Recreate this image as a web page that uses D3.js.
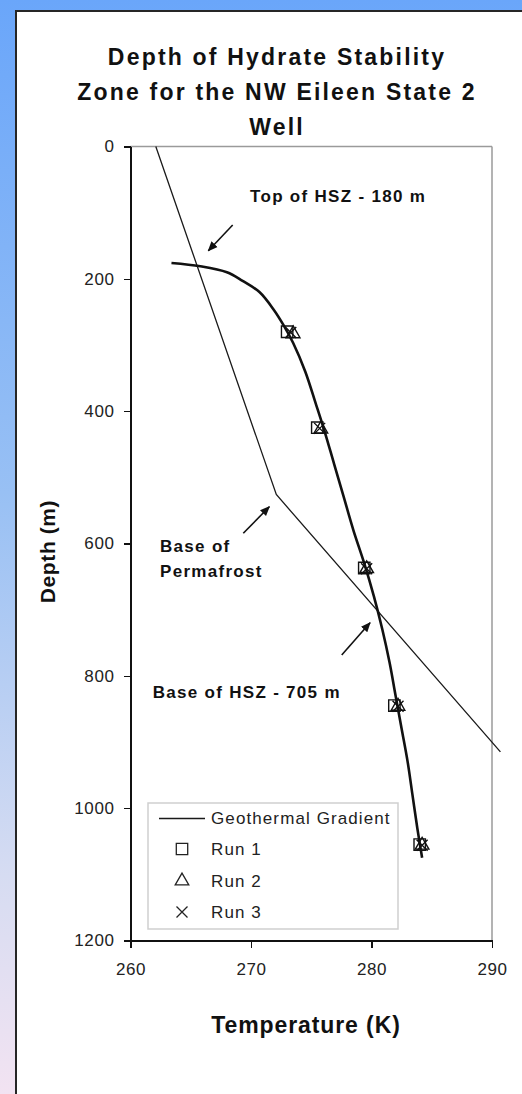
<!DOCTYPE html>
<html>
<head>
<meta charset="utf-8">
<script src="https://cdn.jsdelivr.net/npm/d3@7"></script>
<style>
  html, body { margin: 0; padding: 0; }
  body { width: 522px; height: 1094px; overflow: hidden; }
  svg { display: block; }
</style>
</head>
<body>
<svg id="chart" width="522" height="1094"></svg>
<script>
// Geothermal gradient (temperature vs depth), with the permafrost kink
const gradientTemp  = [262.1, 272.1, 290.7];
const gradientDepth = [0, 526, 915];

// Hydrate stability boundary curve
const boundaryTemp  = [263.4, 265.8, 268.0, 269.3, 270.7, 271.9, 272.7, 273.5, 274.5, 275.4, 276.1, 276.9, 277.7, 278.5, 279.4, 280.2, 280.9, 281.5, 282.0, 282.5, 283.0, 283.4, 283.8, 284.2];
const boundaryDepth = [176, 181, 190, 203, 220, 247, 270, 297, 340, 390, 430, 480, 530, 580, 630, 680, 730, 780, 830, 880, 930, 980, 1030, 1075];

// Model runs
const run1Temp  = [273.0, 275.5, 279.4, 281.9, 284.0];
const run1Depth = [280, 425, 637, 845, 1055];
const run2Temp  = [273.5, 275.8, 279.6, 282.2, 284.2];
const run2Depth = [283, 427, 638, 846, 1056];
const run3Temp  = [273.3, 275.7, 279.6, 282.2, 284.2];
const run3Depth = [281, 426, 638, 846, 1056];

const tempTicks  = [260, 270, 280, 290];
const depthTicks = [0, 200, 400, 600, 800, 1000, 1200];

const titleLines = ["Depth of Hydrate Stability", "Zone for the NW Eileen State 2", "Well"];
const legendLabels = ["Geothermal Gradient", "Run 1", "Run 2", "Run 3"];

const svg = d3.select("#chart");

// Slide background
const defs = svg.append("defs");
const bg = defs.append("linearGradient").attr("id", "bgGrad")
  .attr("x1", 0).attr("y1", 0).attr("x2", 0).attr("y2", 1);
bg.append("stop").attr("offset", "0%").attr("stop-color", "#6aa6fa");
bg.append("stop").attr("offset", "45%").attr("stop-color", "#98c0f4");
bg.append("stop").attr("offset", "80%").attr("stop-color", "#d6dcf2");
bg.append("stop").attr("offset", "100%").attr("stop-color", "#f2e3f2");
svg.append("rect").attr("width", 522).attr("height", 1094).attr("fill", "url(#bgGrad)");

// White panel
svg.append("rect").attr("x", 16).attr("y", 11).attr("width", 520).attr("height", 1100)
  .attr("fill", "#ffffff").attr("stroke", "#262626").attr("stroke-width", 2);

// Arrowhead
defs.append("marker").attr("id", "arrowHead")
  .attr("viewBox", "0 0 10 10").attr("refX", 9).attr("refY", 5)
  .attr("markerWidth", 10).attr("markerHeight", 10).attr("markerUnits", "userSpaceOnUse")
  .attr("orient", "auto")
  .append("path").attr("d", "M0,0.8 L10,5 L0,9.2 Z").attr("fill", "#111");

const x = d3.scaleLinear().domain([260, 290]).range([130.5, 492]);
const y = d3.scaleLinear().domain([0, 1200]).range([146.5, 940.5]);

// Title
const title = svg.append("text")
  .attr("text-anchor", "middle")
  .attr("font-family", "Liberation Sans, Arial, sans-serif")
  .attr("font-weight", "bold").attr("font-size", 23)
  .attr("letter-spacing", 2.2).attr("fill", "#111");
const titleBase = [65, 99.5, 135];
titleLines.forEach((t, i) => {
  title.append("tspan").attr("x", 277).attr("y", titleBase[i]).text(t);
});

// Plot frame (top and right)
svg.append("line").attr("x1", x(260)).attr("x2", x(290)).attr("y1", y(0)).attr("y2", y(0))
  .attr("stroke", "#9a9a9a").attr("stroke-width", 1.5);
svg.append("line").attr("x1", x(290)).attr("x2", x(290)).attr("y1", y(0)).attr("y2", y(1200))
  .attr("stroke", "#9a9a9a").attr("stroke-width", 1.5);

// Axes
const tickFont = g => g.selectAll("text")
  .attr("font-family", "Liberation Sans, Arial, sans-serif")
  .attr("font-size", 17).attr("letter-spacing", 0.6).attr("fill", "#222");

const yAxis = svg.append("g").attr("transform", `translate(${x(260)},0)`)
  .call(d3.axisLeft(y).tickValues(depthTicks).tickSize(7).tickSizeOuter(0).tickPadding(9).tickFormat(d3.format("d")))
  .call(tickFont);
yAxis.select(".domain").attr("stroke", "#111").attr("stroke-width", 2);
yAxis.selectAll(".tick line").attr("stroke", "#111").attr("stroke-width", 1.5);

const xAxis = svg.append("g").attr("transform", `translate(0,${y(1200)})`)
  .call(d3.axisBottom(x).tickValues(tempTicks).tickSize(7).tickSizeOuter(0).tickFormat(d3.format("d")))
  .call(tickFont);
xAxis.select(".domain").attr("stroke", "#111").attr("stroke-width", 2);
xAxis.selectAll(".tick line").attr("stroke", "#111").attr("stroke-width", 1.5);
xAxis.selectAll(".tick text").attr("y", 34.5).attr("dy", 0);
svg.selectAll(".domain, .tick line").attr("shape-rendering", "crispEdges");

// Axis titles
svg.append("text").attr("x", 306).attr("y", 1033).attr("text-anchor", "middle")
  .attr("font-family", "Liberation Sans, Arial, sans-serif")
  .attr("font-weight", "bold").attr("font-size", 23).attr("letter-spacing", 0.9)
  .attr("fill", "#111").text("Temperature (K)");
svg.append("text").attr("transform", `translate(55,${(y(0) + y(1200)) / 2 + 8}) rotate(-90)`)
  .attr("text-anchor", "middle")
  .attr("font-family", "Liberation Sans, Arial, sans-serif")
  .attr("font-weight", "bold").attr("font-size", 21).attr("letter-spacing", 0.6)
  .attr("fill", "#111").text("Depth (m)");

const line = d3.line().x(d => x(d[0])).y(d => y(d[1]));

// Geothermal gradient
svg.append("path").datum(d3.zip(gradientTemp, gradientDepth))
  .attr("d", line).attr("fill", "none").attr("stroke", "#1a1a1a").attr("stroke-width", 1.3);

// Hydrate stability boundary
svg.append("path").datum(d3.zip(boundaryTemp, boundaryDepth))
  .attr("d", d3.line().x(d => x(d[0])).y(d => y(d[1])).curve(d3.curveCatmullRom.alpha(0.5)))
  .attr("fill", "none").attr("stroke", "#111").attr("stroke-width", 2.6);

// Marker shapes
const sym = {
  square: d3.symbol().type(d3.symbolSquare).size(130)(),
  triangle: d3.symbol().type(d3.symbolTriangle).size(80)(),
  cross: "M-5.5,-5.5L5.5,5.5M-5.5,5.5L5.5,-5.5"
};
function drawRun(temps, depths, shape) {
  svg.append("g").selectAll("path").data(d3.zip(temps, depths)).join("path")
    .attr("transform", d => `translate(${x(d[0])},${y(d[1])})`)
    .attr("d", sym[shape]).attr("fill", "none").attr("stroke", "#111").attr("stroke-width", 1.4);
}
drawRun(run1Temp, run1Depth, "square");
drawRun(run2Temp, run2Depth, "triangle");
drawRun(run3Temp, run3Depth, "cross");

// Annotations
const annFont = sel => sel.attr("font-family", "Liberation Sans, Arial, sans-serif")
  .attr("font-weight", "bold").attr("font-size", 17).attr("letter-spacing", 1.3).attr("fill", "#111");
const notes = [
  { t: 269.92, d: 83.4, lines: ["Top of HSZ - 180 m"] },
  { t: 262.45, d: 612.4, lines: ["Base of", "Permafrost"] },
  { t: 261.84, d: 833.5, lines: ["Base of HSZ - 705 m"] }
];
notes.forEach(n => {
  const txt = svg.append("text").call(annFont);
  n.lines.forEach((l, i) => txt.append("tspan").attr("x", x(n.t)).attr("y", y(n.d) + i * 25).text(l));
});
const arrows = [
  [268.48, 118.6, 266.46, 157.5],
  [269.36, 584.6, 271.52, 544.4],
  [277.53, 768.5, 279.88, 719.7]
];
arrows.forEach(a => {
  svg.append("line").attr("x1", x(a[0])).attr("y1", y(a[1])).attr("x2", x(a[2])).attr("y2", y(a[3]))
    .attr("stroke", "#111").attr("stroke-width", 1.6).attr("marker-end", "url(#arrowHead)");
});

// Legend
const lg = svg.append("g").attr("transform", "translate(148,803)");
lg.append("rect").attr("width", 250).attr("height", 126)
  .attr("fill", "#fff").attr("stroke", "#cfcfcf").attr("stroke-width", 1.5);
const rowY = [15.5, 46, 78, 109];
const legFont = sel => sel.attr("font-family", "Liberation Sans, Arial, sans-serif")
  .attr("font-size", 17).attr("letter-spacing", 1.1).attr("fill", "#222");
lg.append("line").attr("x1", 11).attr("x2", 57).attr("y1", rowY[0]).attr("y2", rowY[0])
  .attr("stroke", "#1a1a1a").attr("stroke-width", 1.5);
["square", "triangle", "cross"].forEach((s, i) => {
  lg.append("path").attr("transform", `translate(34,${rowY[i + 1]})`)
    .attr("d", sym[s]).attr("fill", "none").attr("stroke", "#222").attr("stroke-width", 1.3);
});
legendLabels.forEach((l, i) => {
  lg.append("text").attr("x", 63).attr("y", rowY[i]).attr("dy", "0.35em").call(legFont).text(l);
});
</script>
</body>
</html>
